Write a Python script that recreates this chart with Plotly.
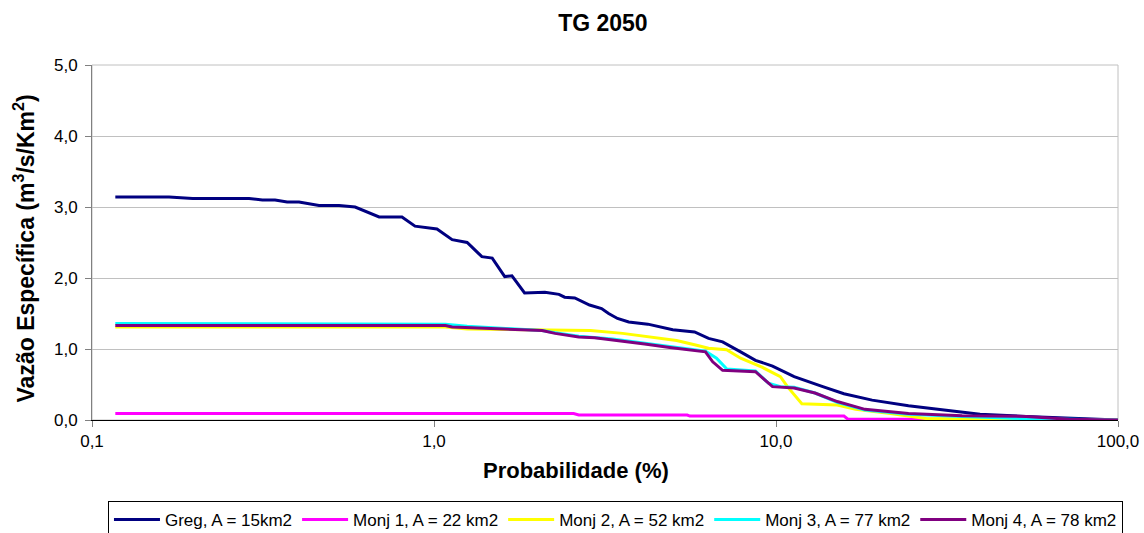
import plotly.graph_objects as go

# Flow-duration curves (probability in %, specific discharge in m3/s/km2)
greg_p = [0.117, 0.168, 0.197, 0.288, 0.315, 0.343, 0.372, 0.403, 0.461, 0.528, 0.588, 0.646,
          0.691, 0.806, 0.880, 1.02, 1.13, 1.25, 1.38, 1.48, 1.61, 1.69, 1.84, 2.11, 2.32, 2.41,
          2.58, 2.85, 3.09, 3.24, 3.44, 3.71, 4.22, 4.99, 5.78, 6.35, 6.98, 7.88, 8.71, 9.77,
          11.3, 13.7, 15.8, 19.1, 24.4, 31.0, 39.5, 53.9, 100.0]
greg_q = [3.14, 3.14, 3.12, 3.12, 3.10, 3.10, 3.07, 3.07, 3.02, 3.02, 3.00, 2.92,
          2.86, 2.86, 2.73, 2.69, 2.54, 2.50, 2.30, 2.28, 2.02, 2.03, 1.79, 1.80, 1.77, 1.73,
          1.72, 1.62, 1.57, 1.50, 1.43, 1.38, 1.35, 1.27, 1.24, 1.15, 1.10, 0.96, 0.84, 0.76,
          0.61, 0.47, 0.37, 0.28, 0.20, 0.14, 0.08, 0.05, 0.0]

monj1_p = [0.117, 2.56, 2.65, 5.50, 5.60, 15.8, 16.2, 39.5, 41.0, 100.0]
monj1_q = [0.09, 0.09, 0.07, 0.07, 0.055, 0.055, 0.015, 0.01, 0.0, 0.0]

monj2_p = [0.117, 1.08, 1.25, 2.26, 2.87, 3.56, 4.45, 5.12, 5.78, 6.35, 7.17, 7.88, 9.13,
           10.3, 10.8, 11.9, 15.1, 17.1, 21.6, 27.5, 52.5, 100.0]
monj2_q = [1.31, 1.31, 1.28, 1.27, 1.26, 1.22, 1.16, 1.12, 1.06, 1.01, 0.99, 0.87, 0.74,
           0.61, 0.47, 0.23, 0.21, 0.15, 0.09, 0.02, 0.0, 0.0]

monj3_p = [0.117, 1.08, 1.25, 1.45, 1.77, 2.07, 2.26, 2.65, 3.33, 4.13, 4.89, 5.51, 6.22,
           6.70, 7.17, 8.71, 9.50, 10.3, 11.3, 13.0, 15.1, 18.2, 24.4, 35.0, 52.5, 100.0]
monj3_q = [1.36, 1.35, 1.32, 1.30, 1.28, 1.26, 1.23, 1.18, 1.14, 1.08, 1.03, 1.00, 0.97,
           0.87, 0.72, 0.69, 0.52, 0.47, 0.46, 0.38, 0.25, 0.14, 0.08, 0.05, 0.02, 0.0]

monj4_p = [0.117, 1.08, 1.13, 1.45, 1.77, 2.07, 2.26, 2.65, 2.95, 3.33, 4.13, 4.89, 5.51,
           6.22, 6.53, 6.98, 8.71, 9.77, 11.3, 13.0, 15.1, 18.2, 24.4, 35.0, 53.9, 71.9, 100.0]
monj4_q = [1.33, 1.33, 1.31, 1.29, 1.27, 1.26, 1.22, 1.17, 1.16, 1.13, 1.07, 1.02, 0.99,
           0.96, 0.82, 0.70, 0.68, 0.47, 0.45, 0.38, 0.26, 0.15, 0.09, 0.06, 0.05, 0.01, 0.0]

series = [
    ("Greg, A = 15km2", greg_p, greg_q, "#000080"),
    ("Monj 1, A = 22 km2", monj1_p, monj1_q, "#FF00FF"),
    ("Monj 2, A = 52 km2", monj2_p, monj2_q, "#FFFF00"),
    ("Monj 3, A = 77 km2", monj3_p, monj3_q, "#00FFFF"),
    ("Monj 4, A = 78 km2", monj4_p, monj4_q, "#800080"),
]

x_tickvals = [0.1, 1, 10, 100]
x_ticktext = ["0,1", "1,0", "10,0", "100,0"]

FONT = "Liberation Sans, Arial, sans-serif"

fig = go.Figure()
for name, p, q, color in series:
    fig.add_trace(go.Scatter(x=p, y=q, mode="lines", name=name,
                             line=dict(color=color, width=3)))

# light grey frame around the plot area
fig.add_shape(type="rect", xref="paper", yref="paper", x0=0, y0=0, x1=1, y1=1,
              line=dict(color="#c0c0c0", width=1), layer="below")

# axis titles
fig.add_annotation(text="<b>Probabilidade (%)</b>", xref="paper", yref="paper",
                   x=0.472, y=-0.141, xanchor="center", yanchor="middle",
                   showarrow=False, font=dict(size=22, family=FONT))
fig.add_annotation(text="<b>Vazão Específica (m<sup>3</sup>/s/Km<sup>2</sup>)</b>",
                   xref="paper", yref="paper", x=-0.066, y=0.484, textangle=-90,
                   xanchor="center", yanchor="middle",
                   showarrow=False, font=dict(size=23, family=FONT))

fig.update_layout(
    width=1144, height=533,
    paper_bgcolor="white", plot_bgcolor="white",
    margin=dict(l=92, r=26, t=65, b=113, autoexpand=False),
    separators=",.",
    font=dict(family=FONT, color="black", size=17),
    title=dict(text="<b>TG 2050</b>", x=0.527, xanchor="center", y=0.957, yanchor="middle",
               font=dict(size=23, family=FONT)),
    showlegend=True,
    legend=dict(orientation="h", xref="container", yref="container",
                x=0.538, xanchor="center", y=0.06, yanchor="top",
                bordercolor="black", borderwidth=1, bgcolor="white",
                font=dict(size=17, family=FONT), itemwidth=46,
                tracegroupgap=0, traceorder="normal"),
)

fig.update_xaxes(type="log", range=[-1, 2], tickvals=x_tickvals, ticktext=x_ticktext,
                 showgrid=False, showline=True, linecolor="black", linewidth=1,
                 ticks="outside", ticklen=6, tickcolor="#808080",
                 tickfont=dict(size=17), zeroline=False)

fig.update_yaxes(range=[0, 5], dtick=1, tickformat=".1f",
                 showgrid=True, gridcolor="#c0c0c0", gridwidth=1,
                 showline=True, linecolor="#808080", linewidth=1,
                 ticks="outside", ticklen=6, tickcolor="#808080",
                 tickfont=dict(size=17), zeroline=False, ticklabelstandoff=4)

fig.write_html("out.html")
